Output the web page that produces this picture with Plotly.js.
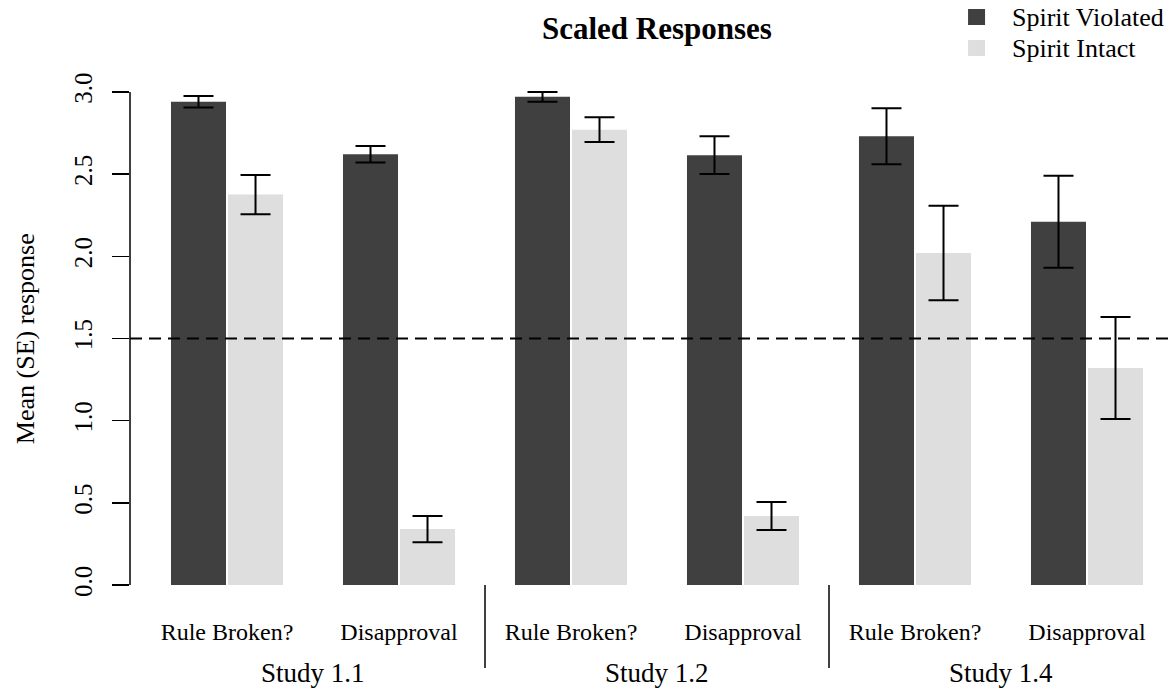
<!DOCTYPE html>
<html>
<head>
<meta charset="utf-8">
<script src="https://cdn.plot.ly/plotly-3.0.1.min.js"></script>
<style>html,body{margin:0;padding:0;background:#fff;}#chart{width:1173px;height:692px;}</style>
</head>
<body>
<div id="chart"></div>
<script>
// ---- data ----
const studies = ["Study 1.1", "Study 1.2", "Study 1.4"];
const measures = ["Rule Broken?", "Disapproval"];
const seriesNames = ["Spirit Violated", "Spirit Intact"];
const seriesColors = ["#404040", "#DEDEDE"];
const violatedMean = [2.94, 2.62, 2.97, 2.615, 2.73, 2.21];
const violatedSE   = [0.035, 0.05, 0.03, 0.115, 0.17, 0.28];
const intactMean   = [2.375, 0.34, 2.77, 0.42, 2.02, 1.32];
const intactSE     = [0.12, 0.08, 0.075, 0.085, 0.287, 0.31];
const referenceLevel = 1.5;
const yTickVals = [0, 0.5, 1, 1.5, 2, 2.5, 3];

// ---- derived ----
const conditionLabels = [];
studies.forEach(() => measures.forEach(m => conditionLabels.push(m)));
const xIdx = conditionLabels.map((_, i) => i);

const FONT = "Liberation Serif, serif";
const errStyle = {type: "data", visible: true, color: "#000", thickness: 2, width: 15};

const traces = [
  {type: "bar", name: seriesNames[0], x: xIdx, y: violatedMean, showlegend: false,
   marker: {color: seriesColors[0], line: {width: 0}},
   error_y: Object.assign({array: violatedSE}, errStyle)},
  {type: "bar", name: seriesNames[1], x: xIdx, y: intactMean, showlegend: false,
   marker: {color: seriesColors[1], line: {width: 0}},
   error_y: Object.assign({array: intactSE}, errStyle)}
];

const shapes = [
  {type: "line", xref: "paper", yref: "y", x0: 0, x1: 0, y0: yTickVals[0], y1: yTickVals[yTickVals.length - 1],
   line: {color: "#000", width: 1.5}},
  {type: "line", xref: "paper", yref: "y", x0: 0, x1: 1, y0: referenceLevel, y1: referenceLevel,
   line: {color: "#000", width: 2, dash: "12px,7px"}}
];
for (let s = 1; s < studies.length; s++) {
  const xv = s * measures.length - 0.5;
  shapes.push({type: "line", xref: "x", yref: "paper", x0: xv, x1: xv, y0: 0, y1: -0.158,
               line: {color: "#000", width: 1.5}});
}

const annotations = studies.map((s, i) => ({
  text: s, xref: "x", yref: "paper", x: i * measures.length + (measures.length - 1) / 2,
  y: -0.168, yanchor: "middle", xanchor: "center", showarrow: false,
  font: {family: FONT, size: 27, color: "#000"}
}));
annotations.push({
  text: "Mean (SE) response", xref: "paper", yref: "y", x: -0.1, y: 1.5,
  xanchor: "center", yanchor: "middle", textangle: -90, showarrow: false,
  font: {family: FONT, size: 26, color: "#000"}
});

// custom legend (key squares + names)
const legendRowsY = [[1.0951, 1.0646, 1.0798], [1.0361, 1.0057, 1.0209]];
seriesNames.forEach((nm, i) => {
  shapes.push({type: "rect", xref: "paper", yref: "paper", x0: 0.8035, x1: 0.8198,
               y0: legendRowsY[i][1], y1: legendRowsY[i][0], fillcolor: seriesColors[i], line: {width: 0}});
  annotations.push({text: nm, xref: "paper", yref: "paper", x: 0.8437, y: legendRowsY[i][2],
                    xanchor: "left", yanchor: "middle", showarrow: false,
                    font: {family: FONT, size: 26, color: "#000"}});
});

const layout = {
  width: 1173, height: 692,
  margin: {l: 130, r: 0, t: 59, b: 107, pad: 0},
  paper_bgcolor: "#fff", plot_bgcolor: "#fff",
  font: {family: FONT, size: 25, color: "#000"},
  title: {text: "<b>Scaled Responses</b>", font: {family: FONT, size: 31, color: "#000"},
          xref: "container", x: 0.56, xanchor: "center", yref: "container", y: 0.959, yanchor: "middle"},
  barmode: "group", bargap: 0.337, bargroupgap: 0.035,
  xaxis: {range: [-0.564, 5.5], tickvals: xIdx, ticktext: conditionLabels, ticks: "",
          showline: false, showgrid: false, zeroline: false, ticklabelstandoff: 30,
          tickfont: {family: FONT, size: 24, color: "#000"}},
  yaxis: {range: [0, 3.2], tickvals: yTickVals, tickformat: ".1f", ticks: "outside", ticklen: 17,
          tickwidth: 1.5, tickcolor: "#000", tickangle: -90, showline: false, showgrid: false,
          zeroline: false, ticklabelstandoff: 10, tickfont: {family: FONT, size: 25, color: "#000"}},
  showlegend: false,
  shapes: shapes, annotations: annotations
};

Plotly.newPlot("chart", traces, layout, {displayModeBar: false, staticPlot: true});
</script>
</body>
</html>
